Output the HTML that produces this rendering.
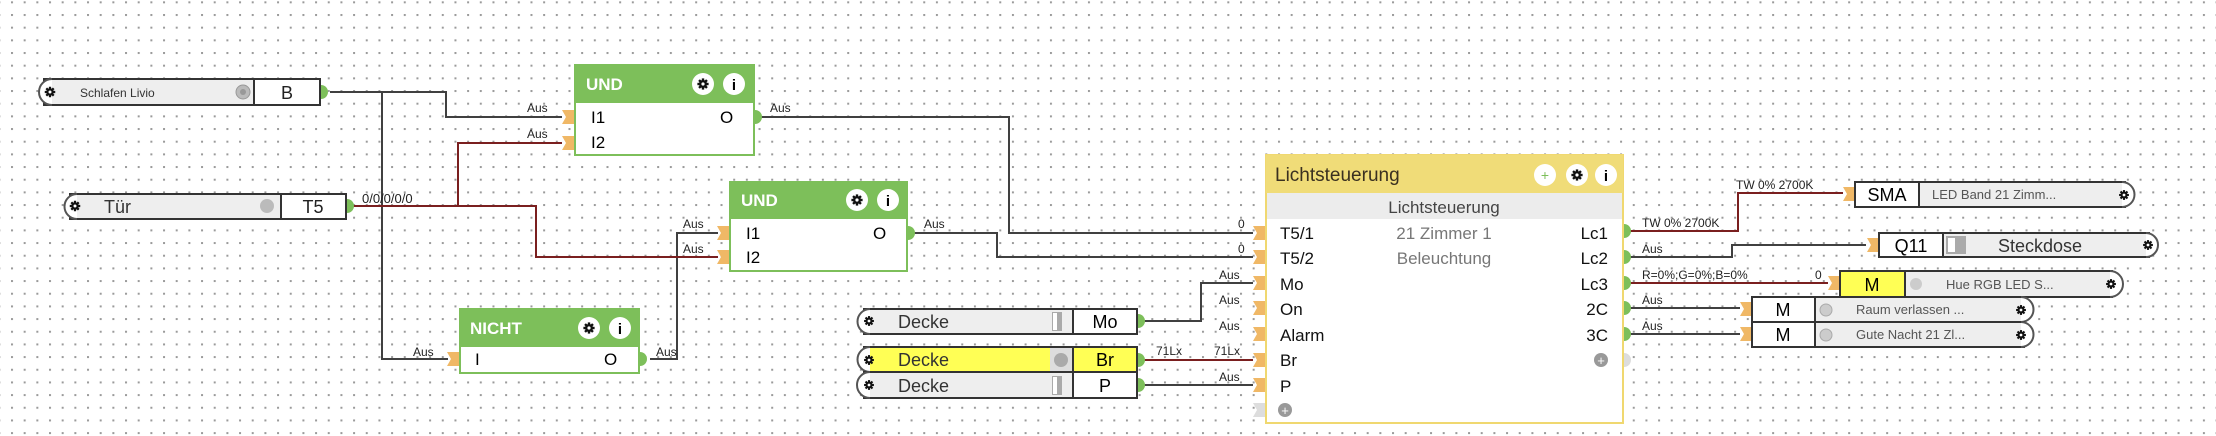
<!DOCTYPE html>
<html><head><meta charset="utf-8"><style>
html,body{margin:0;padding:0;background:#fff;}
svg{display:block;font-family:"Liberation Sans",sans-serif;}
</style></head><body>
<svg width="2216" height="436" viewBox="0 0 2216 436" xmlns="http://www.w3.org/2000/svg">
<defs>
<pattern id="dots" x="11" y="14" width="12.67" height="12.67" patternUnits="userSpaceOnUse">
<rect x="0" y="0" width="2" height="2" fill="#9a9a9a"/>
</pattern>
<g id="gear"><circle r="5" fill="#111"/><circle r="2" fill="#fff"/>
<rect x="-1.5" y="-7" width="3" height="14" fill="#111"/><rect x="-7" y="-1.5" width="14" height="3" fill="#111"/>
<rect x="-1.5" y="-7" width="3" height="14" fill="#111" transform="rotate(45)"/><rect x="-1.5" y="-7" width="3" height="14" fill="#111" transform="rotate(-45)"/>
<circle r="2" fill="#fff"/></g>
<g id="inp"><path d="M-12,-7 L0,-7 L0,7 L-12,7 L-8,0 Z" fill="#f0b866"/></g>
</defs>
<rect width="2216" height="436" fill="url(#dots)"/>

<!-- wires dark -->
<g fill="none" stroke="#404040" stroke-width="2">
<path d="M330,92 L446,92 L446,117 L562,117"/>
<path d="M382,92 L382,359 L448,359"/>
<path d="M650,359 L677,359 L677,233 L718,233"/>
<path d="M760,117 L1009,117 L1009,233 L1253,233"/>
<path d="M913,233 L997,233 L997,257 L1253,257"/>
<path d="M1143,321 L1201,321 L1201,283 L1253,283"/>
<path d="M1143,385 L1253,385"/>
<path d="M1630,257 L1732,257 L1732,245 L1866,245"/>
<path d="M1630,308 L1740,308"/>
<path d="M1630,334 L1740,334"/>
</g>
<g fill="none" stroke="#7a1f1f" stroke-width="2">
<path d="M350,206 L536,206 L536,257 L718,257"/>
<path d="M458,206 L458,143 L562,143"/>
<path d="M1143,360 L1253,360"/>
<path d="M1630,231 L1738,231 L1738,193 L1843,193"/>
<path d="M1630,283 L1828,283"/>
</g>

<!-- wire labels -->
<g font-size="12" fill="#222">
<text x="527" y="112">Aus</text><text x="527" y="138">Aus</text>
<text x="770" y="112">Aus</text>
<text x="362" y="203" font-size="13">0/0/0/0/0</text>
<text x="683" y="228">Aus</text><text x="683" y="253">Aus</text>
<text x="924" y="228">Aus</text>
<text x="413" y="356">Aus</text><text x="656" y="356">Aus</text>
<text x="1238" y="228">0</text><text x="1238" y="253">0</text>
<text x="1219" y="279">Aus</text><text x="1219" y="304">Aus</text><text x="1219" y="330">Aus</text>
<text x="1156" y="355">71Lx</text><text x="1214" y="355">71Lx</text>
<text x="1219" y="381">Aus</text>
<text x="1736" y="189">TW 0% 2700K</text>
<text x="1642" y="227">TW 0% 2700K</text>
<text x="1642" y="253">Aus</text>
<text x="1642" y="279">R=0%;G=0%;B=0%</text><text x="1815" y="279">0</text>
<text x="1642" y="304">Aus</text><text x="1642" y="330">Aus</text>
</g>

<!-- Schlafen Livio input -->
<rect x="44" y="79" width="276" height="26" fill="#eee" stroke="#333" stroke-width="2"/>
<path d="M52,79 A13,13 0 0 0 52,105" fill="#fff" stroke="#555" stroke-width="2"/>
<use href="#gear" transform="translate(50,92) scale(0.75)"/>
<text x="80" y="97" font-size="12" fill="#333">Schlafen Livio</text>
<circle cx="243" cy="92" r="7" fill="#bbb" stroke="#999"/><circle cx="243" cy="92" r="3" fill="#999"/>
<rect x="254" y="79" width="66" height="26" fill="#fff" stroke="#333" stroke-width="2"/>
<text x="287" y="99" font-size="18" text-anchor="middle" fill="#222">B</text>
<path d="M321,85 A7,7 0 0 1 321,99 Z" fill="#7dbf5a"/>

<!-- Tür input -->
<rect x="70" y="194" width="276" height="25" fill="#eee" stroke="#333" stroke-width="2"/>
<path d="M77,194 A12,12 0 0 0 77,219" fill="#fff" stroke="#555" stroke-width="2"/>
<use href="#gear" transform="translate(75,206) scale(0.75)"/>
<text x="104" y="213" font-size="18" fill="#333">Tür</text>
<circle cx="267" cy="206" r="7" fill="#bbb"/>
<rect x="281" y="194" width="65" height="25" fill="#fff" stroke="#333" stroke-width="2"/>
<text x="313" y="213" font-size="18" text-anchor="middle" fill="#222">T5</text>
<path d="M347,199 A7,7 0 0 1 347,213 Z" fill="#7dbf5a"/>

<!-- UND1 -->
<rect x="575" y="65" width="179" height="90" fill="#fff" stroke="#7dbf5a" stroke-width="2"/>
<rect x="575" y="65" width="179" height="38" fill="#7dbf5a"/>
<text x="586" y="90" font-size="17" font-weight="bold" fill="#fff">UND</text>
<circle cx="703" cy="84" r="11" fill="#fff"/><use href="#gear" transform="translate(703,84) scale(0.8)"/>
<circle cx="734" cy="84" r="11" fill="#fff"/><text x="734" y="90" font-size="15" font-weight="bold" text-anchor="middle">i</text>
<use href="#inp" transform="translate(574,117)"/><use href="#inp" transform="translate(574,143)"/>
<text x="591" y="123" font-size="17">I1</text><text x="591" y="148" font-size="17">I2</text>
<text x="720" y="123" font-size="17">O</text>
<path d="M755,110 A7,7 0 0 1 755,124 Z" fill="#7dbf5a"/>

<!-- UND2 -->
<rect x="730" y="182" width="177" height="89" fill="#fff" stroke="#7dbf5a" stroke-width="2"/>
<rect x="730" y="182" width="177" height="37" fill="#7dbf5a"/>
<text x="741" y="206" font-size="17" font-weight="bold" fill="#fff">UND</text>
<circle cx="857" cy="200" r="11" fill="#fff"/><use href="#gear" transform="translate(857,200) scale(0.8)"/>
<circle cx="888" cy="200" r="11" fill="#fff"/><text x="888" y="206" font-size="15" font-weight="bold" text-anchor="middle">i</text>
<use href="#inp" transform="translate(729,233)"/><use href="#inp" transform="translate(729,257)"/>
<text x="746" y="239" font-size="17">I1</text><text x="746" y="263" font-size="17">I2</text>
<text x="873" y="239" font-size="17">O</text>
<path d="M908,226 A7,7 0 0 1 908,240 Z" fill="#7dbf5a"/>

<!-- NICHT -->
<rect x="460" y="309" width="179" height="64" fill="#fff" stroke="#7dbf5a" stroke-width="2"/>
<rect x="460" y="309" width="179" height="38" fill="#7dbf5a"/>
<text x="470" y="334" font-size="17" font-weight="bold" fill="#fff">NICHT</text>
<circle cx="589" cy="328" r="11" fill="#fff"/><use href="#gear" transform="translate(589,328) scale(0.8)"/>
<circle cx="620" cy="328" r="11" fill="#fff"/><text x="620" y="334" font-size="15" font-weight="bold" text-anchor="middle">i</text>
<use href="#inp" transform="translate(459,359)"/>
<text x="475" y="365" font-size="17">I</text><text x="604" y="365" font-size="17">O</text>
<path d="M640,352 A7,7 0 0 1 640,366 Z" fill="#7dbf5a"/>

<!-- Decke inputs -->
<g>
<rect x="864" y="309" width="273" height="25" fill="#eee" stroke="#333" stroke-width="2"/>
<path d="M870,309 A12,12 0 0 0 870,334" fill="#fff" stroke="#555" stroke-width="2"/>
<use href="#gear" transform="translate(869,321) scale(0.7)"/>
<text x="898" y="328" font-size="18" fill="#333">Decke</text>
<rect x="1052" y="312" width="10" height="19" fill="#aaa"/><rect x="1053" y="313" width="4" height="17" fill="#fff"/>
<rect x="1073" y="309" width="64" height="25" fill="#fff" stroke="#333" stroke-width="2"/>
<text x="1105" y="328" font-size="18" text-anchor="middle">Mo</text>
<path d="M1138,314 A7,7 0 0 1 1138,328 Z" fill="#7dbf5a"/>

<rect x="864" y="347" width="273" height="25" fill="#ffff55" stroke="#333" stroke-width="2"/>
<path d="M870,347 A12,12 0 0 0 870,372" fill="#fff" stroke="#555" stroke-width="2"/>
<use href="#gear" transform="translate(869,360) scale(0.7)"/>
<text x="898" y="366" font-size="18" fill="#333">Decke</text>
<rect x="1050" y="348" width="23" height="23" fill="#ddd"/><circle cx="1061" cy="360" r="7" fill="#aaa"/>
<rect x="1073" y="347" width="64" height="25" fill="#ffff55" stroke="#333" stroke-width="2"/>
<text x="1105" y="366" font-size="18" text-anchor="middle">Br</text>
<path d="M1138,353 A7,7 0 0 1 1138,367 Z" fill="#7dbf5a"/>

<rect x="864" y="372" width="273" height="26" fill="#eee" stroke="#333" stroke-width="2"/>
<path d="M870,372 A12,12 0 0 0 870,398" fill="#fff" stroke="#555" stroke-width="2"/>
<use href="#gear" transform="translate(869,385) scale(0.7)"/>
<text x="898" y="392" font-size="18" fill="#333">Decke</text>
<rect x="1052" y="376" width="10" height="19" fill="#aaa"/><rect x="1053" y="377" width="4" height="17" fill="#fff"/>
<rect x="1073" y="372" width="64" height="26" fill="#fff" stroke="#333" stroke-width="2"/>
<text x="1105" y="392" font-size="18" text-anchor="middle">P</text>
<path d="M1138,378 A7,7 0 0 1 1138,392 Z" fill="#7dbf5a"/>
</g>

<!-- Lichtsteuerung -->
<rect x="1266" y="155" width="357" height="268" fill="#fff" stroke="#f0d870" stroke-width="2"/>
<rect x="1266" y="155" width="357" height="38" fill="#f0dc78"/>
<rect x="1267" y="193" width="355" height="26" fill="#ececec"/>
<text x="1275" y="181" font-size="19" fill="#3a3020">Lichtsteuerung</text>
<circle cx="1545" cy="175" r="11" fill="#fff"/><text x="1545" y="180" font-size="14" fill="#7dbf5a" text-anchor="middle">+</text>
<circle cx="1577" cy="175" r="11" fill="#fff"/><use href="#gear" transform="translate(1577,175) scale(0.8)"/>
<circle cx="1606" cy="175" r="11" fill="#fff"/><text x="1606" y="181" font-size="15" font-weight="bold" text-anchor="middle">i</text>
<text x="1444" y="213" font-size="17" fill="#444" text-anchor="middle">Lichtsteuerung</text>
<text x="1444" y="239" font-size="17" fill="#777" text-anchor="middle">21 Zimmer 1</text>
<text x="1444" y="264" font-size="17" fill="#777" text-anchor="middle">Beleuchtung</text>
<g font-size="17" fill="#111">
<text x="1280" y="239">T5/1</text><text x="1280" y="264">T5/2</text><text x="1280" y="290">Mo</text>
<text x="1280" y="315">On</text><text x="1280" y="341">Alarm</text><text x="1280" y="366">Br</text><text x="1280" y="392">P</text>
<g text-anchor="end"><text x="1608" y="239">Lc1</text><text x="1608" y="264">Lc2</text><text x="1608" y="290">Lc3</text>
<text x="1608" y="315">2C</text><text x="1608" y="341">3C</text></g>
</g>
<use href="#inp" transform="translate(1265,233)"/><use href="#inp" transform="translate(1265,257)"/>
<use href="#inp" transform="translate(1265,283)"/><use href="#inp" transform="translate(1265,308)"/>
<use href="#inp" transform="translate(1265,334)"/><use href="#inp" transform="translate(1265,360)"/>
<use href="#inp" transform="translate(1265,385)"/>
<path d="M1253,403 L1265,403 L1265,417 L1253,417 L1257,410 Z" fill="#ddd"/>
<circle cx="1285" cy="410" r="7" fill="#999"/><text x="1285" y="415" font-size="13" fill="#fff" text-anchor="middle">+</text>
<circle cx="1601" cy="360" r="7" fill="#999"/><text x="1601" y="365" font-size="13" fill="#fff" text-anchor="middle">+</text>
<path d="M1624,353 A7,7 0 0 1 1624,367 Z" fill="#ddd"/>
<g fill="#7dbf5a">
<path d="M1624,224 A7,7 0 0 1 1624,238 Z"/><path d="M1624,250 A7,7 0 0 1 1624,264 Z"/>
<path d="M1624,276 A7,7 0 0 1 1624,290 Z"/><path d="M1624,301 A7,7 0 0 1 1624,315 Z"/>
<path d="M1624,327 A7,7 0 0 1 1624,341 Z"/>
</g>

<!-- Outputs right -->
<use href="#inp" transform="translate(1855,194)"/>
<rect x="1855" y="182" width="270" height="25" fill="#eee" stroke="#333" stroke-width="2"/>
<path d="M2122,182 A12,12 0 0 1 2122,207" fill="#fff" stroke="#555" stroke-width="2"/>
<use href="#gear" transform="translate(2124,195) scale(0.7)"/>
<rect x="1855" y="182" width="64" height="25" fill="#fff" stroke="#333" stroke-width="2"/>
<text x="1887" y="201" font-size="18" text-anchor="middle">SMA</text>
<text x="1932" y="199" font-size="13" fill="#555">LED  Band 21 Zimm...</text>

<use href="#inp" transform="translate(1879,245)"/>
<rect x="1879" y="233" width="270" height="24" fill="#eee" stroke="#333" stroke-width="2"/>
<path d="M2146,233 A12,12 0 0 1 2146,257" fill="#fff" stroke="#555" stroke-width="2"/>
<use href="#gear" transform="translate(2148,245) scale(0.7)"/>
<rect x="1879" y="233" width="64" height="24" fill="#fff" stroke="#333" stroke-width="2"/>
<text x="1911" y="252" font-size="18" text-anchor="middle">Q11</text>
<rect x="1946" y="236" width="20" height="18" fill="#aaa"/><rect x="1948" y="238" width="7" height="14" fill="#fff"/>
<text x="2040" y="252" font-size="18" fill="#333" text-anchor="middle">Steckdose</text>

<use href="#inp" transform="translate(1840,283)"/>
<rect x="1840" y="271" width="272" height="26" fill="#eee" stroke="#333" stroke-width="2"/>
<path d="M2110,271 A13,13 0 0 1 2110,297" fill="#fff" stroke="#555" stroke-width="2"/>
<use href="#gear" transform="translate(2111,284) scale(0.7)"/>
<rect x="1840" y="271" width="65" height="26" fill="#ffff55" stroke="#333" stroke-width="2"/>
<text x="1872" y="291" font-size="18" text-anchor="middle">M</text>
<circle cx="1916" cy="284" r="6" fill="#ccc"/>
<text x="1946" y="289" font-size="13" fill="#555">Hue RGB LED  S...</text>

<use href="#inp" transform="translate(1752,309)"/>
<rect x="1752" y="297" width="272" height="25" fill="#eee" stroke="#333" stroke-width="2"/>
<path d="M2021,297 A12,12 0 0 1 2021,322" fill="#fff" stroke="#555" stroke-width="2"/>
<use href="#gear" transform="translate(2021,310) scale(0.7)"/>
<rect x="1752" y="297" width="63" height="25" fill="#fff" stroke="#333" stroke-width="2"/>
<text x="1783" y="316" font-size="18" text-anchor="middle">M</text>
<circle cx="1826" cy="310" r="6" fill="#ccc" stroke="#aaa"/>
<text x="1856" y="314" font-size="13" fill="#555">Raum  verlassen ...</text>

<use href="#inp" transform="translate(1752,334)"/>
<rect x="1752" y="322" width="272" height="25" fill="#eee" stroke="#333" stroke-width="2"/>
<path d="M2021,322 A12,12 0 0 1 2021,347" fill="#fff" stroke="#555" stroke-width="2"/>
<use href="#gear" transform="translate(2021,335) scale(0.7)"/>
<rect x="1752" y="322" width="63" height="25" fill="#fff" stroke="#333" stroke-width="2"/>
<text x="1783" y="341" font-size="18" text-anchor="middle">M</text>
<circle cx="1826" cy="335" r="6" fill="#ccc" stroke="#aaa"/>
<text x="1856" y="339" font-size="13" fill="#555">Gute  Nacht 21  Zl...</text>
</svg>
</body></html>
